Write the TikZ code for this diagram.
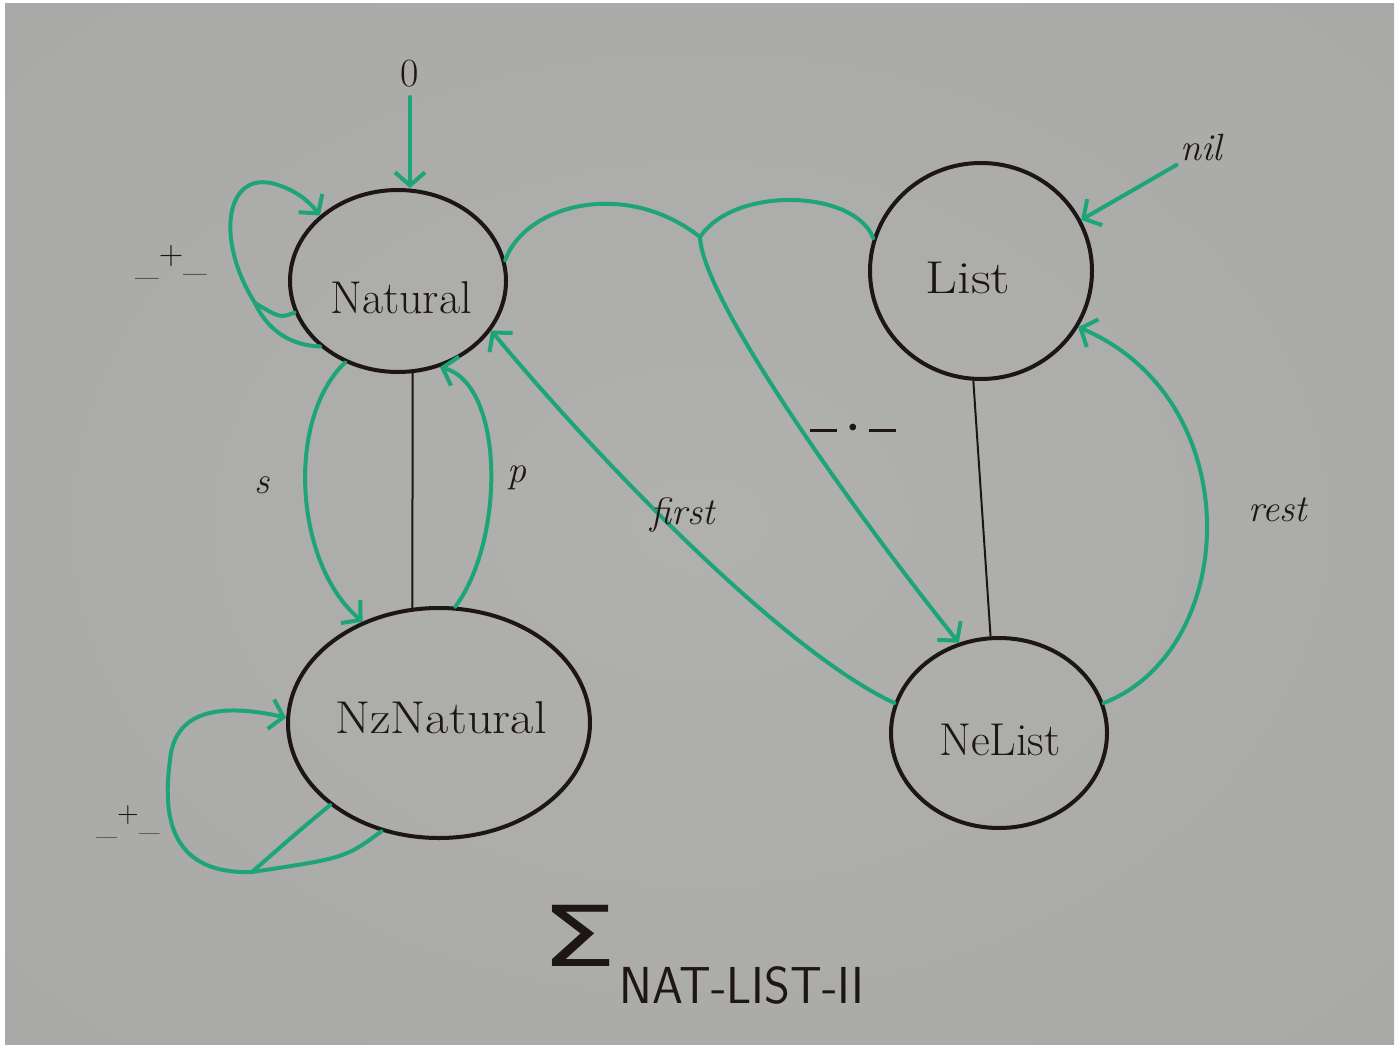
\documentclass[tikz,border=0pt]{standalone}
\usepackage{fontspec}
\newfontfamily\sigmafont{DejaVu Sans}
\usetikzlibrary{arrows.meta,shapes.geometric}
\definecolor{boardin}{HTML}{B0B0AE}
\definecolor{boardmid}{HTML}{A4A4A2}
\definecolor{boardout}{HTML}{8C8C8C}
\definecolor{marker}{HTML}{1EA577}
\definecolor{ink}{HTML}{1E1616}
\pgfdeclareradialshading{boardshade}{\pgfpoint{0bp}{0bp}}{color(0bp)=(boardin); color(60bp)=(boardmid); color(100bp)=(boardout)}
\begin{document}
\begin{tikzpicture}[x=1pt,y=-1pt,
  sortnode/.style={ellipse, draw=ink, line width=4pt, inner sep=0pt},
  sorttext/.style={font=\fontsize{46}{50}\selectfont, text=ink},
  optext/.style={font=\itshape\fontsize{38}{42}\selectfont, text=ink},
  opline/.style={draw=marker, line width=4pt, line cap=round},
  oparrow/.style={opline, -{Straight Barb[length=13pt,width=30pt]}},
  subline/.style={draw=ink, line width=2pt}]
% board
\fill[white] (0,0) rectangle (1399,1048);
\shade[shading=boardshade] (5,4) rectangle (1394,1044);
\useasboundingbox (0,0) rectangle (1399,1048);

% sorts
\node[sortnode, minimum width=216pt, minimum height=182pt] (Natural) at (398,281) {};
\node[sortnode, minimum width=302pt, minimum height=230pt] (NzNatural) at (439,723) {};
\node[sortnode, minimum width=222pt, minimum height=216pt] (List) at (981,271) {};
\node[sortnode, minimum width=216pt, minimum height=190pt] (NeList) at (999,733) {};
\node[sorttext] (NaturalT) at (401,298) {Natural};
\node[sorttext, xscale=1.1] (NzNaturalT) at (441,718) {NzNatural};
\node[sorttext, xscale=1.2] (ListT) at (968,278) {List};
\node[sorttext] (NeListT) at (1000,740) {NeList};

% subsort lines
\draw[subline] (Natural.279) -- (NzNatural.103);
\draw[subline] (List.266) -- (NeList.95);

% constants
\node[optext, font=\fontsize{40}{44}\selectfont] (zero) at (410,74) {0};
\draw[oparrow, shorten <=6pt] (zero.south) -- (Natural.north -| zero.south);
\node[optext] (nil) at (1201,148) {nil};
\draw[oparrow] (nil.south west) -- (List.27);

% _+_ on Natural
\coordinate (plusj) at (255,303);
\draw[opline] (Natural.197) .. controls (280,318) .. (plusj);
\draw[opline] (Natural.220) .. controls (285,345) and (265,325) .. (plusj);
\draw[oparrow] (plusj) .. controls (215,240) and (225,170) .. (275,184) .. controls (295,190) and (308,200) .. (Natural.140);
\node[text=ink, font=\fontsize{34}{38}\selectfont] (plusN) at (171,262) {\_\raisebox{10pt}{+}\raisebox{4pt}{\_}};

% _+_ on NzNatural
\coordinate (nzj) at (252,872);
\draw[opline] (NzNatural.217) .. controls (300,830) .. (nzj);
\draw[opline] (NzNatural.242) .. controls (345,858) .. (nzj);
\draw[oparrow] (nzj) .. controls (160,875) and (165,800) .. (170,760) .. controls (175,705) and (230,705) .. (NzNatural.178);
\node[text=ink, font=\fontsize{30}{34}\selectfont] (plusNz) at (128,822) {\raisebox{-4pt}{\_}\raisebox{8pt}{+}\_};

% s and p
\draw[oparrow] (Natural.237) .. controls (285,420) and (295,565) .. (NzNatural.127);
\node[optext] (s) at (262,485) {s};
\draw[oparrow] (NzNatural.82) .. controls (505,540) and (505,385) .. (Natural.296);
\node[optext] (p) at (517,478) {p};

% _._
\coordinate (dotj) at (700,237);
\draw[opline] (Natural.11) .. controls (525,205) and (625,178) .. (dotj);
\draw[opline] (List.163) .. controls (855,190) and (735,185) .. (dotj);
\draw[oparrow] (dotj) .. controls (702,300) and (860,520) .. (NeList.114);
\node[text=ink, font=\fontsize{30}{34}\selectfont] (dotop) at (853,430) {\rule{27pt}{3pt}\hspace{5pt}\raisebox{-4pt}{\textbullet}\hspace{5pt}\rule{27pt}{3pt}};

% first
\draw[oparrow] (NeList.164) .. controls (780,650) and (590,450) .. (Natural.332);
\node[optext] (first) at (683,515) {first};

% rest
\draw[oparrow] (NeList.16) .. controls (1240,650) and (1250,400) .. (List.330);
\node[optext] (rest) at (1278,510) {rest};

% signature name
\node[text=ink, font=\sigmafont\fontsize{84}{88}\selectfont] (sigma) at (579,936) {\scalebox{1.45}[1]{Σ}};
\node[text=ink, font=\sffamily\fontsize{52}{56}\selectfont] (signame) at (742,985) {\scalebox{0.95}[1]{NAT-LIST-II}};
\end{tikzpicture}
\end{document}
